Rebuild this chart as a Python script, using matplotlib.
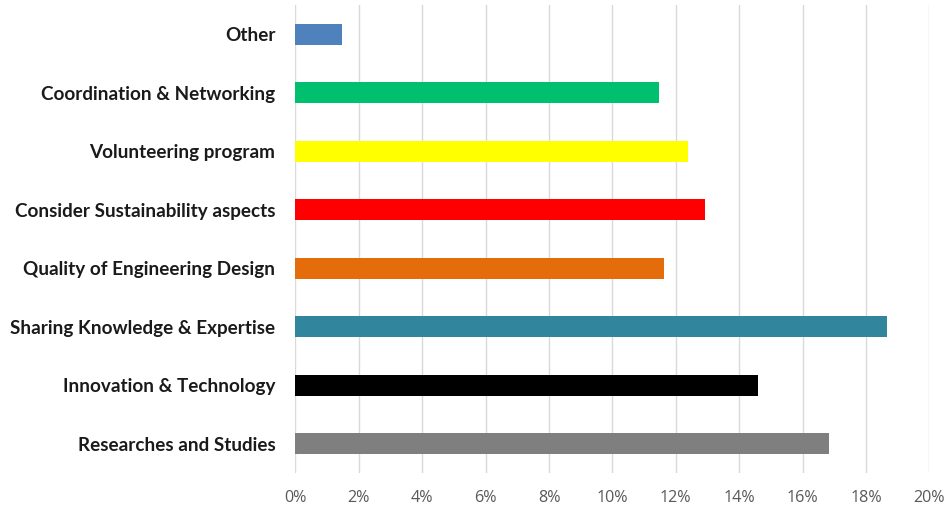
import matplotlib
matplotlib.use("Agg")
import matplotlib.pyplot as plt
from matplotlib.ticker import FuncFormatter

categories = [
    "Researches and Studies",
    "Innovation & Technology",
    "Sharing Knowledge & Expertise",
    "Quality of Engineering Design",
    "Consider Sustainability aspects",
    "Volunteering program",
    "Coordination & Networking",
    "Other",
]
values = [16.82, 14.59, 18.68, 11.63, 12.93, 12.39, 11.48, 1.46]
colors = ["#7f7f7f", "#000000", "#31859c", "#e46c0a",
          "#ff0000", "#ffff00", "#00bf6f", "#4f81bd"]
xticks = [0, 2, 4, 6, 8, 10, 12, 14, 16, 18, 20]

fig = plt.figure(figsize=(9.48, 5.07), dpi=100)
ax = fig.add_axes([0.3117, 0.067, 0.6686, 0.923])

ypos = list(range(len(categories)))
ax.barh(ypos, values, height=0.36, color=colors, zorder=3)

ax.set_xlim(0, 20)
ax.set_ylim(-0.5, len(categories) - 0.5)
ax.set_xticks(xticks)
ax.xaxis.set_major_formatter(FuncFormatter(lambda v, p: f"{v:.0f}%"))
ax.set_yticks(ypos)
ax.set_yticklabels(categories, fontfamily="Lato", fontweight="bold",
                   fontsize=13.6, color="#1a1a1a")
for lbl in ax.get_xticklabels():
    lbl.set_fontfamily("Open Sans")
    lbl.set_fontsize(11.6)
    lbl.set_color("#595959")

ax.grid(axis="x", color="#d9d9d9", linewidth=1.0, zorder=0)
for s in ax.spines.values():
    s.set_visible(False)
ax.tick_params(axis="both", length=0)
ax.tick_params(axis="y", pad=14.5)
ax.tick_params(axis="x", pad=12)

fig.savefig("out.png", dpi=100)
